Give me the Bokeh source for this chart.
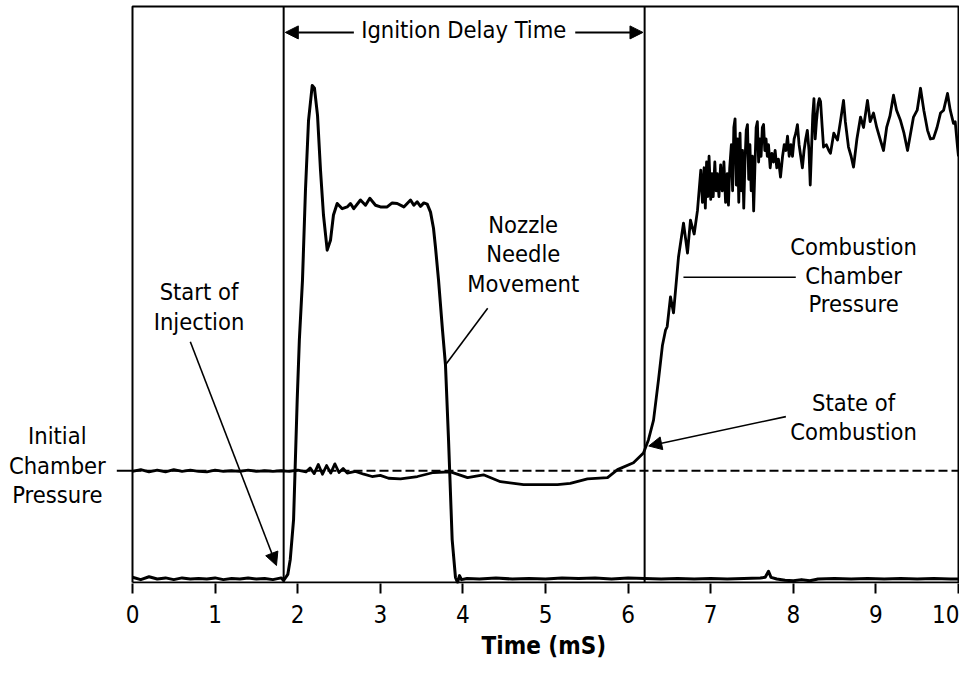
from bokeh.plotting import figure
from bokeh.models import Range1d, FixedTicker, Arrow, NormalHead, Title, ColumnDataSource
from bokeh.core.properties import value
from bokeh.embed import file_html
from bokeh.resources import INLINE

# ---------------- data ----------------
# Nozzle needle movement trace (time in ms, relative signal 0..100)
needle_t = [0.0, 0.1, 0.2, 0.3, 0.4, 0.5, 0.6, 0.7, 0.8, 0.9, 1.0, 1.1, 1.2, 1.3, 1.4, 1.5, 1.6, 1.7, 1.8,
            1.83, 1.88, 1.91, 1.95, 1.994, 2.02, 2.058, 2.094, 2.131, 2.176, 2.203, 2.24, 2.276, 2.312, 2.357,
            2.397, 2.433, 2.478, 2.539, 2.599, 2.639, 2.679, 2.760, 2.821, 2.873, 2.942, 3.002, 3.083, 3.144,
            3.205, 3.285, 3.366, 3.406, 3.447, 3.487, 3.527, 3.568, 3.608, 3.644, 3.668, 3.705, 3.753, 3.789,
            3.826, 3.870, 3.910, 3.935, 3.959, 3.983, 4.05, 4.2, 4.4, 4.6, 4.8, 5.0, 5.2, 5.4, 5.6, 5.8, 6.0,
            6.2, 6.4, 6.6, 6.8, 7.0, 7.2, 7.4, 7.6, 7.66, 7.70, 7.73, 7.8, 7.9, 8.0, 8.1, 8.2, 8.3, 8.5, 8.7,
            8.9, 9.1, 9.3, 9.5, 9.7, 9.9, 10.0]
needle_v = [0.9, 0.5, 1.0, 0.6, 0.8, 0.5, 0.8, 0.6, 0.7, 0.6, 0.8, 0.5, 0.7, 0.6, 0.8, 0.6, 0.7, 0.5, 0.8,
            0.35, 1.4, 4.0, 10.9, 31.7, 42.1, 52.5, 68.1, 80.2, 86.3, 85.8, 81.1, 71.6, 63.8, 57.7,
            59.4, 63.8, 65.8, 64.9, 65.2, 65.8, 64.9, 66.4, 65.5, 66.7, 65.5, 65.2, 65.2, 65.9,
            65.8, 65.2, 66.4, 65.5, 66.1, 65.3, 65.9, 65.7, 64.3, 61.5, 58.2, 52.5, 43.8, 37.8,
            24.8, 7.45, 0.87, 0.0, 1.2, 0.5, 0.7, 0.6, 0.8, 0.6, 0.7, 0.6, 0.8, 0.7, 0.8, 0.6, 0.8,
            0.7, 0.6, 0.7, 0.6, 0.7, 0.6, 0.7, 0.8, 0.9, 1.96, 0.9, 0.6, 0.4, 0.3, 0.5, 0.3, 0.6, 0.7, 0.6,
            0.7, 0.6, 0.7, 0.6, 0.7, 0.6, 0.6]

# Combustion chamber pressure trace
press_t = [0.0, 0.1, 0.2, 0.3, 0.4, 0.5, 0.6, 0.7, 0.8, 0.9, 1.0, 1.1, 1.2, 1.3, 1.4, 1.5, 1.6, 1.7, 1.8,
           1.9, 2.0, 2.1, 2.15, 2.2, 2.25, 2.3, 2.35, 2.4, 2.45, 2.5, 2.55, 2.6, 2.7, 2.8, 2.9, 3.0, 3.1,
           3.245, 3.450, 3.644, 3.850, 4.056, 4.249, 4.455, 4.734, 4.939, 5.145, 5.30, 5.508, 5.751, 5.872,
           6.065, 6.186, 6.247, 6.308, 6.368, 6.416, 6.453, 6.473, 6.513, 6.550, 6.610, 6.671, 6.719, 6.755,
           6.80, 6.840, 6.88, 6.90, 6.92, 6.935, 6.95, 6.965, 6.98, 7.00, 7.015, 7.03, 7.05, 7.065, 7.08,
           7.10, 7.12, 7.14, 7.16, 7.18, 7.20, 7.215, 7.23, 7.25, 7.265, 7.28, 7.295, 7.31, 7.325, 7.34,
           7.355, 7.37, 7.385, 7.40, 7.415, 7.43, 7.445, 7.46, 7.475, 7.49, 7.505, 7.52, 7.535, 7.55, 7.565,
           7.58, 7.595, 7.61, 7.625, 7.64, 7.655, 7.67, 7.685, 7.70, 7.72, 7.74, 7.76, 7.78, 7.80, 7.82,
           7.845, 7.87, 7.89, 7.91, 7.93, 7.95, 7.97, 7.99, 8.01, 8.03, 8.05, 8.07, 8.09, 8.11, 8.13, 8.15,
           8.17, 8.19, 8.205, 8.22, 8.235, 8.25, 8.265, 8.28, 8.30, 8.315, 8.33, 8.35, 8.366, 8.40, 8.43,
           8.45, 8.49, 8.535, 8.57, 8.608, 8.63, 8.668, 8.70, 8.729, 8.77, 8.814, 8.85, 8.898, 8.93, 8.971,
           9.01, 9.05, 9.092, 9.13, 9.17, 9.213, 9.25, 9.298, 9.34, 9.383, 9.42, 9.455, 9.50, 9.54, 9.58,
           9.625, 9.66, 9.697, 9.74, 9.782, 9.82, 9.867, 9.90, 9.939, 9.96, 9.988, 10.0]
press_v = [19.3, 19.6, 19.2, 19.5, 19.2, 19.6, 19.3, 19.5, 19.3, 19.2, 19.5, 19.3, 19.4, 19.3, 19.5, 19.3, 19.4, 19.3, 19.4,
           19.3, 19.5, 19.2, 19.9, 18.9, 20.5, 18.8, 20.3, 19.0, 20.6, 19.1, 19.8, 19.0, 19.3, 18.8, 18.4, 18.6, 18.1,
           18.0, 18.4, 19.1, 19.2, 18.2, 18.7, 17.5, 17.0, 17.0, 17.0, 17.2, 18.0, 18.2, 19.6,
           20.8, 22.5, 24.8, 28.2, 35.2, 41.2, 43.8, 44.4, 49.6, 46.8, 56.5, 62.4, 57.2, 62.9,
           60.5, 64.6, 71.6, 66.0, 72.0, 65.0, 73.0, 67.0, 74.0, 66.5, 71.0, 67.0, 73.0, 68.0, 71.0,
           67.0, 72.5, 68.0, 73.0, 66.0, 71.0, 65.5, 72.0, 76.0, 68.0, 79.0, 80.5, 69.0, 77.0, 66.0,
           78.0, 68.0, 75.0, 65.0, 73.0, 78.5, 79.5, 70.0, 76.0, 68.0, 74.0, 64.5, 72.0, 79.0, 80.0,
           73.0, 77.0, 74.0, 79.0, 79.5, 75.0, 77.0, 74.0, 76.0, 72.0, 74.5, 73.0, 75.0, 72.0, 73.5,
           70.4, 74.0, 76.0, 75.0, 77.5, 74.0, 76.0, 74.0, 77.0, 78.0, 79.5, 76.0, 74.0, 72.0, 75.0, 77.0,
           78.5, 75.0, 69.0, 75.0, 81.0, 84.0, 77.0, 80.0, 83.0, 84.0, 83.5, 79.0, 75.6, 76.0, 75.0,
           74.5, 78.0, 76.8, 80.0, 83.7, 80.0, 75.6, 74.0, 72.1, 77.0, 80.8, 79.0, 83.7, 80.0, 81.5,
           79.0, 77.0, 75.0, 79.0, 81.0, 84.6, 82.0, 80.2, 78.0, 75.0, 78.0, 80.8, 82.0, 85.8, 82.0,
           78.5, 77.0, 77.1, 79.0, 81.5, 82.0, 84.9, 82.0, 79.7, 80.0, 75.6, 74.0]

initial_pressure = 19.4          # initial chamber pressure level (dashed reference)
injection_start = 1.83           # start of injection (ms)
combustion_start = 6.20          # start of combustion (ms)
x_ticks = [0, 1, 2, 3, 4, 5, 6, 7, 8, 9, 10]

# ---------------- figure ----------------
FONT = "DejaVu Sans Condensed"
TOP = 100.0

p = figure(width=959, height=664, output_backend="svg", toolbar_location=None,
           x_range=Range1d(-1.598, 10.012), y_range=Range1d(-0.173, 101.04),
           y_axis_location=None, min_border_top=0, min_border_left=0,
           min_border_right=0, min_border_bottom=80)
p.outline_line_color = None
p.grid.visible = False
p.background_fill_color = "white"
p.border_fill_color = "white"

ax = p.xaxis[0]
ax.ticker = FixedTicker(ticks=x_ticks, minor_ticks=[])
ax.axis_line_color = None
ax.major_tick_line_color = "black"
ax.major_tick_line_width = 2
ax.major_tick_out = 10
ax.major_tick_in = 0
ax.minor_tick_out = 0
ax.minor_tick_in = 0
ax.major_label_text_font = FONT
ax.major_label_text_font_size = "24px"
ax.major_label_text_color = "black"
ax.major_label_standoff = 11

p.add_layout(Title(text="Time (mS)", align="left", offset=481, text_font=FONT,
                   text_font_size="24px", text_font_style="bold", text_color="black",
                   text_line_height=0.8, standoff=9), "below")

# frame box
p.line(x=[0, 0, 10, 10, 0], y=[0, TOP, TOP, 0, 0], line_color="black", line_width=2)

# vertical markers
p.segment(x0=[injection_start, combustion_start], y0=[0, 0],
          x1=[injection_start, combustion_start], y1=[TOP, TOP], line_color="black", line_width=2)

# initial pressure reference
p.line(x=[0, 10], y=[initial_pressure, initial_pressure], line_color="black", line_width=1.8,
       line_dash="9 4")
p.line(x=[-0.19, 0], y=[initial_pressure, initial_pressure], line_color="black", line_width=1.8)

# traces
p.line(x=press_t, y=press_v, line_color="black", line_width=2.8, line_join="round")
p.line(x=needle_t, y=needle_v, line_color="black", line_width=3, line_join="round")

# annotations
labels = ColumnDataSource(dict(
    x=[4.01, 0.805, 0.805, 4.73, 4.73, 4.73, 8.73, 8.73, 8.73, 8.73, 8.73, -0.91, -0.91, -0.91],
    y=[95.9, 50.5, 45.3, 62.1, 57.1, 51.9, 58.3, 53.2, 48.3, 31.1, 26.2, 25.4, 20.2, 15.2],
    text=["Ignition Delay Time", "Start of", "Injection", "Nozzle", "Needle", "Movement",
          "Combustion", "Chamber", "Pressure", "State of", "Combustion",
          "Initial", "Chamber", "Pressure"]))
p.text(x="x", y="y", text="text", source=labels, text_font=value(FONT), text_font_size="23.5px",
       text_align="center", text_baseline="middle", text_color="black")

def arrow(x0, y0, x1, y1, w=1.6):
    p.add_layout(Arrow(end=NormalHead(size=13, fill_color="black", line_color="black", line_width=1),
                       x_start=x0, y_start=y0, x_end=x1, y_end=y1,
                       line_color="black", line_width=w))

arrow(2.68, 95.5, injection_start + 0.02, 95.5, 2)
arrow(5.36, 95.5, combustion_start - 0.02, 95.5, 2)
arrow(0.70, 41.8, 1.743, 2.95)
arrow(7.91, 28.8, 6.25, 23.7)

# plain leader lines
p.segment(x0=[4.30, 6.67], y0=[47.6, 53.0], x1=[3.79, 8.03], y1=[37.8, 53.0],
          line_color="black", line_width=1.6)

open("out.html", "w").write(file_html(p, INLINE))
